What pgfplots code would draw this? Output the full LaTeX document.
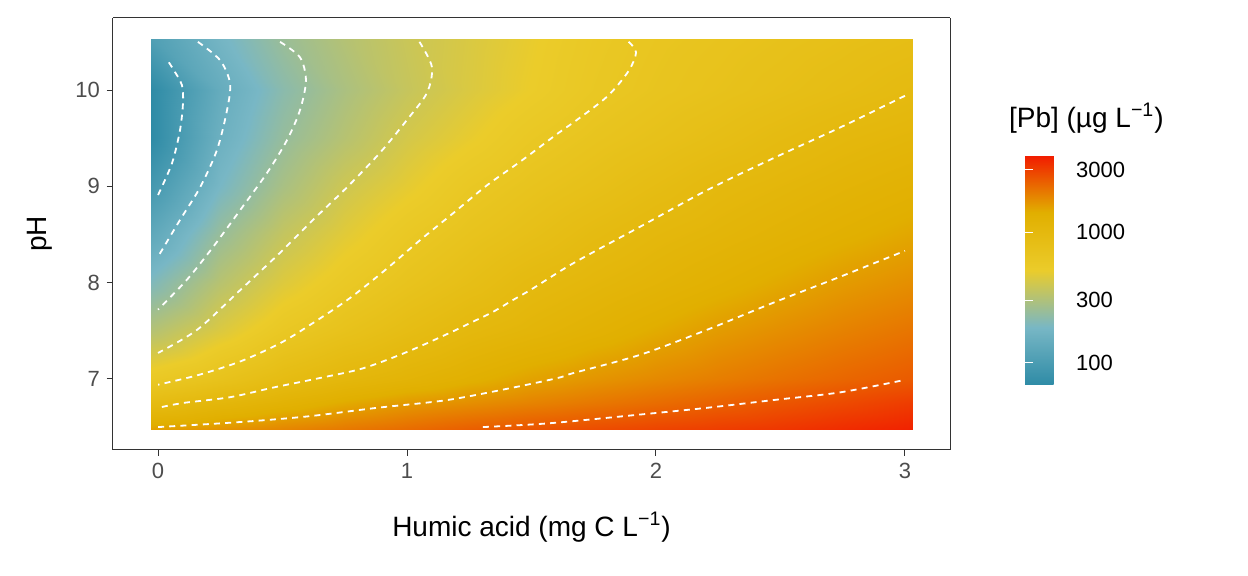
\documentclass[border=0pt]{standalone}
\usepackage{fontspec}
\setmainfont{Liberation Sans}
\usepackage{pgfplots}
\pgfplotsset{compat=1.18}
\usepackage{pgfplotstable}
\definecolor{tickgray}{HTML}{4D4D4D}
\definecolor{framegray}{HTML}{333333}
\pgfplotstableread{
x y z
-0.03 6.47 3.20
0.25 6.47 3.238
0.5 6.47 3.277
0.75 6.47 3.315
1 6.47 3.353
1.25 6.47 3.392
1.5 6.47 3.42
1.75 6.47 3.445
2 6.47 3.47
2.25 6.47 3.49
2.5 6.47 3.51
2.75 6.47 3.54
3.03 6.47 3.57
-0.03 6.75 2.96
0.25 6.75 3.038
0.5 6.75 3.102
0.75 6.75 3.166
1 6.75 3.215
1.25 6.75 3.248
1.5 6.75 3.281
1.75 6.75 3.314
2 6.75 3.347
2.25 6.75 3.38
2.5 6.75 3.415
2.75 6.75 3.45
3.03 6.75 3.49
-0.03 7 2.764
0.25 7 2.858
0.5 7 2.954
0.75 7 3.028
1 7 3.081
1.25 7 3.135
1.5 7 3.188
1.75 7 3.227
2 7 3.262
2.25 7 3.296
2.5 7 3.331
2.75 7 3.365
3.03 7 3.40
-0.03 7.5 2.50
0.25 7.5 2.649
0.5 7.5 2.779
0.75 7.5 2.865
1 7.5 2.942
1.25 7.5 3.012
1.5 7.5 3.062
1.75 7.5 3.112
2 7.5 3.162
2.25 7.5 3.209
2.5 7.5 3.247
2.75 7.5 3.285
3.03 7.5 3.323
-0.03 8 2.30
0.25 8 2.513
0.5 8 2.657
0.75 8 2.759
1 8 2.844
1.25 8 2.916
1.5 8 2.988
1.75 8 3.037
2 8 3.081
2.25 8 3.125
2.5 8 3.168
2.75 8 3.21
3.03 8 3.247
-0.03 8.5 2.12
0.25 8.5 2.392
0.5 8.5 2.558
0.75 8.5 2.672
1 8.5 2.769
1.25 8.5 2.843
1.5 8.5 2.905
1.75 8.5 2.968
2 8.5 3.019
2.25 8.5 3.058
2.5 8.5 3.097
2.75 8.5 3.136
3.03 8.5 3.175
-0.03 9 1.96
0.25 9 2.27
0.5 9 2.456
0.75 9 2.595
1 9 2.686
1.25 9 2.776
1.5 9 2.84
1.75 9 2.894
2 9 2.949
2.25 9 3.002
2.5 9 3.039
2.75 9 3.077
3.03 9 3.114
-0.03 9.5 1.80
0.25 9.5 2.2
0.5 9.5 2.385
0.75 9.5 2.509
1 9.5 2.619
1.25 9.5 2.697
1.5 9.5 2.775
1.75 9.5 2.832
2 9.5 2.879
2.25 9.5 2.926
2.5 9.5 2.973
2.75 9.5 3.015
3.03 9.5 3.05
-0.03 10 1.82
0.25 10 2.16
0.5 10 2.34
0.75 10 2.466
1 10 2.567
1.25 10 2.645
1.5 10 2.712
1.75 10 2.78
2 10 2.827
2.25 10 2.865
2.5 10 2.904
2.75 10 2.942
3.03 10 2.98
-0.03 10.53 2.03
0.25 10.53 2.25
0.5 10.53 2.40
0.75 10.53 2.50
1 10.53 2.58
1.25 10.53 2.64
1.5 10.53 2.70
1.75 10.53 2.765
2 10.53 2.81
2.25 10.53 2.84
2.5 10.53 2.87
2.75 10.53 2.90
3.03 10.53 2.93
}\pbgrid
\begin{document}
\begin{tikzpicture}
\path[use as bounding box] (-56.5pt,-63pt) rectangle (567.5pt,225pt);
\begin{axis}[
  name=main,
  at={(0,0)}, anchor=south west,
  scale only axis, width=418.5pt, height=216pt,
  view={0}{90}, clip=false,
  xmin=-0.181, xmax=3.181, ymin=6.262, ymax=10.748,
  xtick={0,1,2,3}, ytick={7,8,9,10},
  tick align=outside, tick pos=left,
  major tick length=3pt,
  every tick/.style={framegray, line width=0.5pt},
  axis line style={framegray, line width=0.5pt},
  ticklabel style={font=\fontsize{11}{13}\selectfont, text=tickgray},
  /pgf/number format/assume math mode=true,
  colormap={zissou}{rgb255=(46,139,166) rgb255=(120,183,197) rgb255=(235,204,42) rgb255=(225,175,0) rgb255=(242,26,0)},
  point meta min=1.83, point meta max=3.59,
  colorbar,
  colorbar style={
    at={(parent axis.north east)}, anchor=north west, xshift=29pt, yshift=-68.5pt,
    width=22pt, height=115pt,
    ytick={2,2.4771,3,3.4771}, yticklabels={100,300,1000,3000},
    ytick pos=both, tick align=inside, major tick length=4pt,
    every tick/.style={white, line width=0.5pt},
    axis line style={draw=none},
    yticklabel style={font=\fontsize{11}{13}\selectfont, text=black},
    yticklabel pos=right,
  },
]
\addplot3[surf, shader=interp, mesh/rows=10, mesh/cols=13] table[x=x,y=y,z=z] {\pbgrid};
\addplot[white, line width=0.9pt, dash pattern=on 3pt off 2.6pt, smooth] coordinates {(0,8.91)(0.056,9.24)(0.088,9.58)(0.10,9.86)(0.096,10.05)(0.06,10.22)(0.032,10.33)};
\addplot[white, line width=0.9pt, dash pattern=on 3pt off 2.6pt, smooth] coordinates {(0.16,10.5)(0.249,10.31)(0.289,10.07)(0.277,9.79)(0.237,9.38)(0.169,8.99)(0.088,8.65)(0,8.27)};
\addplot[white, line width=0.9pt, dash pattern=on 3pt off 2.6pt, smooth] coordinates {(0.49,10.5)(0.57,10.34)(0.594,10.1)(0.57,9.79)(0.518,9.48)(0.438,9.14)(0.329,8.75)(0.221,8.37)(0.116,8.03)(0,7.72)};
\addplot[white, line width=0.9pt, dash pattern=on 3pt off 2.6pt, smooth] coordinates {(1.05,10.5)(1.10,10.24)(1.08,9.97)(1.0,9.69)(0.892,9.35)(0.759,8.99)(0.622,8.65)(0.49,8.31)(0.329,7.92)(0.157,7.51)(0,7.27)};
\addplot[white, line width=0.9pt, dash pattern=on 3pt off 2.6pt, smooth] coordinates {(1.89,10.5)(1.92,10.39)(1.888,10.19)(1.803,9.93)(1.667,9.66)(1.606,9.55)(1.462,9.27)(1.321,9.01)(1.185,8.72)(1.052,8.44)(0.912,8.13)(0.771,7.84)(0.622,7.58)(0.49,7.37)(0.329,7.18)(0.161,7.04)(0,6.94)};
\addplot[white, line width=0.9pt, dash pattern=on 3pt off 2.6pt, smooth] coordinates {(3,9.94)(2.739,9.61)(2.47,9.29)(2.205,8.96)(1.936,8.58)(1.667,8.20)(1.506,7.94)(1.426,7.82)(1.341,7.69)(1.253,7.58)(1.173,7.48)(1.0,7.28)(0.823,7.11)(0.651,7.01)(0.462,6.91)(0.289,6.81)(0.10,6.75)(0,6.70)};
\addplot[white, line width=0.9pt, dash pattern=on 3pt off 2.6pt, smooth] coordinates {(0,6.50)(0.317,6.55)(0.598,6.61)(0.88,6.70)(1.16,6.78)(1.426,6.91)(1.606,7.01)(1.667,7.06)(1.936,7.25)(2.205,7.51)(2.47,7.79)(2.739,8.06)(3,8.33)};
\addplot[white, line width=0.9pt, dash pattern=on 3pt off 2.6pt, smooth] coordinates {(1.305,6.5)(1.574,6.54)(1.936,6.63)(2.205,6.70)(2.47,6.78)(2.739,6.86)(3,6.99)};
\end{axis}
\node[font=\fontsize{14}{16}\selectfont] at (209.25pt,-38.5pt) {Humic acid (mg C L\textsuperscript{−1})};
\node[font=\fontsize{14}{16}\selectfont, rotate=90] at (-36.5pt,108pt) {pH};
\node[font=\fontsize{14}{16}\selectfont, anchor=west] at (444.5pt,166pt) {[Pb] (µg L\textsuperscript{−1})};
\end{tikzpicture}
\end{document}
